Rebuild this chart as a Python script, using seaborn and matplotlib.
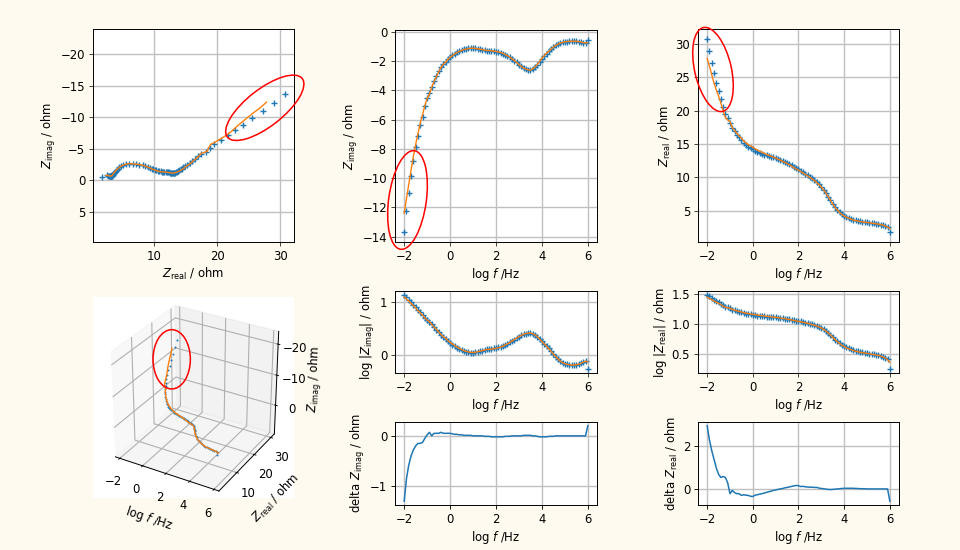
import numpy as np
import pandas as pd
import matplotlib
matplotlib.use("Agg")
import matplotlib.pyplot as plt
from matplotlib.patches import Ellipse
import seaborn as sns

# measured spectrum, 10 points per decade
log_f = [-2.0, -1.9, -1.8, -1.7, -1.6, -1.5, -1.4, -1.3, -1.2, -1.1,
         -1.0, -0.9, -0.8, -0.7, -0.6, -0.5, -0.4, -0.3, -0.2, -0.1,
         0.0, 0.1, 0.2, 0.3, 0.4, 0.5, 0.6, 0.7, 0.8, 0.9,
         1.0, 1.1, 1.2, 1.3, 1.4, 1.5, 1.6, 1.7, 1.8, 1.9,
         2.0, 2.1, 2.2, 2.3, 2.4, 2.5, 2.6, 2.7, 2.8, 2.9,
         3.0, 3.1, 3.2, 3.3, 3.4, 3.5, 3.6, 3.7, 3.8, 3.9,
         4.0, 4.1, 4.2, 4.3, 4.4, 4.5, 4.6, 4.7, 4.8, 4.9,
         5.0, 5.1, 5.2, 5.3, 5.4, 5.5, 5.6, 5.7, 5.8, 5.9,
         6.0]

z_real = [30.8, 29.0, 27.2, 25.6, 24.1, 22.9, 21.7, 20.6, 19.5, 18.9,
          18.2, 17.4, 16.9, 16.4, 16.0, 15.6, 15.2, 14.9, 14.6, 14.4,
          14.2, 14.0, 13.85, 13.7, 13.55, 13.42, 13.3, 13.2, 13.08, 12.98,
          12.85, 12.72, 12.6, 12.45, 12.3, 12.15, 12.0, 11.8, 11.6, 11.42,
          11.25, 11.0, 10.8, 10.55, 10.35, 10.1, 9.85, 9.6, 9.3, 8.95,
          8.6, 8.15, 7.65, 7.1, 6.55, 6.0, 5.5, 5.1, 4.75, 4.45,
          4.25, 4.05, 3.9, 3.78, 3.65, 3.55, 3.48, 3.4, 3.35, 3.3,
          3.25, 3.2, 3.15, 3.1, 3.05, 3.0, 2.92, 2.85, 2.7, 2.55,
          1.75]

z_imag = [-13.7, -12.25, -11.0, -9.85, -8.8, -7.9, -7.1, -6.4, -5.8, -5.1,
          -4.55, -4.2, -3.8, -3.35, -3.05, -2.7, -2.4, -2.2, -2.05, -1.85,
          -1.72, -1.6, -1.5, -1.4, -1.33, -1.27, -1.22, -1.18, -1.15, -1.13,
          -1.13, -1.15, -1.17, -1.2, -1.23, -1.27, -1.3, -1.31, -1.33, -1.35,
          -1.38, -1.41, -1.45, -1.5, -1.58, -1.66, -1.75, -1.86, -1.98, -2.11,
          -2.25, -2.37, -2.48, -2.55, -2.6, -2.62, -2.55, -2.42, -2.25, -2.05,
          -1.85, -1.67, -1.5, -1.35, -1.2, -1.07, -0.95, -0.86, -0.78, -0.73,
          -0.7, -0.68, -0.67, -0.66, -0.66, -0.67, -0.68, -0.71, -0.75, -0.78,
          -0.55]

# measured minus fit
delta_real = [2.95, 2.3, 1.8, 1.4, 1.0, 0.7, 0.55, 0.6, 0.55, 0.3,
              -0.2, -0.05, -0.15, -0.2, -0.2, -0.28, -0.25, -0.27, -0.28, -0.32,
              -0.33, -0.27, -0.25, -0.22, -0.2, -0.17, -0.14, -0.11, -0.08, -0.05,
              -0.03, 0.0, 0.02, 0.04, 0.07, 0.09, 0.11, 0.14, 0.16, 0.18,
              0.17, 0.13, 0.14, 0.12, 0.11, 0.1, 0.1, 0.09, 0.09, 0.06,
              0.04, 0.03, 0.01, 0.0, -0.01, 0.0, 0.01, 0.02, 0.03, 0.04,
              0.05, 0.05, 0.05, 0.05, 0.05, 0.04, 0.04, 0.03, 0.03, 0.03,
              0.02, 0.02, 0.02, 0.02, 0.02, 0.02, 0.02, 0.02, 0.02, 0.02,
              -0.55]

delta_imag = [-1.3, -0.85, -0.58, -0.4, -0.28, -0.2, -0.15, -0.15, -0.13, -0.05,
              0.02, 0.07, 0.0, 0.05, 0.05, 0.05, 0.07, 0.05, 0.05, 0.05,
              0.05, 0.04, 0.03, 0.03, 0.02, 0.02, 0.01, 0.01, 0.01, 0.01,
              0.0, 0.0, 0.0, 0.0, 0.0, -0.01, -0.01, -0.01, -0.02, -0.02,
              -0.02, -0.02, -0.02, -0.02, -0.01, -0.01, -0.01, 0.0, 0.0, 0.0,
              0.0, 0.0, 0.01, 0.01, 0.01, 0.01, 0.0, 0.0, -0.01, -0.02,
              -0.02, -0.02, -0.02, -0.01, -0.01, -0.01, 0.0, 0.0, 0.0, 0.0,
              0.0, 0.0, 0.0, 0.0, 0.0, 0.0, 0.0, 0.0, 0.0, 0.0,
              0.2]

FIG_W, FIG_H = 960, 550
BG = "#fffaef"
BLUE = "#1f77b4"
ORANGE = "#ff7f0e"
GRID = "#c0c0c0"

XLABEL_F = r"log $f$ /Hz"
LABEL_RE = r"$Z_{\mathrm{real}}$ / ohm"
LABEL_IM = r"$Z_{\mathrm{imag}}$ / ohm"

# the original looks like a default figure shrunk to about 80%
plt.rcParams.update({
    "font.size": 8.4,
    "axes.labelsize": 8.4,
    "xtick.labelsize": 8.4,
    "ytick.labelsize": 8.4,
    "axes.labelpad": 2.0,
    "axes.linewidth": 0.7,
    "xtick.major.size": 2.8,
    "ytick.major.size": 2.8,
    "xtick.major.width": 0.64,
    "ytick.major.width": 0.64,
    "xtick.major.pad": 2.8,
    "ytick.major.pad": 2.8,
})

df = pd.DataFrame({"log_f": log_f, "re": z_real, "im": z_imag,
                   "d_re": delta_real, "d_im": delta_imag})
df["fit_re"] = df["re"] - df["d_re"]
df["fit_im"] = df["im"] - df["d_im"]
df["log_re"] = np.log10(df["re"].abs())
df["log_im"] = np.log10(df["im"].abs())
df["fit_log_re"] = np.log10(df["fit_re"].abs())
df["fit_log_im"] = np.log10(df["fit_im"].abs())

fig = plt.figure(figsize=(FIG_W / 100, FIG_H / 100), dpi=100, facecolor=BG)


def px_axes(left, top, right, bottom, **kw):
    # axes box given in pixels of the 960x550 picture
    rect = [left / FIG_W, 1 - bottom / FIG_H, (right - left) / FIG_W, (bottom - top) / FIG_H]
    return fig.add_axes(rect, **kw)


def data_and_fit(ax, x, y, fit_x, fit_y):
    sns.scatterplot(data=df, x=x, y=y, marker="+", s=25, color=BLUE, linewidth=1.0, ax=ax, zorder=3)
    sns.lineplot(data=df, x=fit_x, y=fit_y, color=ORANGE, linewidth=1.0, sort=False, estimator=None, ax=ax, zorder=4)
    ax.grid(True, color=GRID, linewidth=1)
    ax.set_axisbelow(True)
    ax.tick_params(color="#333333")


def red_ellipse(cx, cy, w, h, angle):
    # outline position in picture pixels, not tied to any axes
    fig.add_artist(Ellipse((cx / 100, (FIG_H - cy) / 100), w / 100, h / 100, angle=angle,
                           transform=fig.dpi_scale_trans, fill=False, edgecolor="red",
                           linewidth=1.1, zorder=10))


# Nyquist
ax = px_axes(93, 29, 294, 242)
data_and_fit(ax, "re", "im", "fit_re", "fit_im")
ax.set_xlim(0.27, 32.2)
ax.set_ylim(9.8, -24)
ax.set_xticks([10, 20, 30])
ax.set_yticks([-20, -15, -10, -5, 0, 5])
ax.set_xlabel(LABEL_RE)
ax.set_ylabel(LABEL_IM)

# Z imag vs f
ax = px_axes(395, 30, 597, 242)
data_and_fit(ax, "log_f", "im", "log_f", "fit_im")
ax.set_yticks([-14, -12, -10, -8, -6, -4, -2, 0])
ax.set_xlabel(XLABEL_F)
ax.set_ylabel(LABEL_IM)

# Z real vs f
ax = px_axes(698, 29, 899, 242)
data_and_fit(ax, "log_f", "re", "log_f", "fit_re")
ax.set_yticks([5, 10, 15, 20, 25, 30])
ax.set_xlabel(XLABEL_F)
ax.set_ylabel(LABEL_RE)

# log |Z imag|
ax = px_axes(395, 291, 597, 373)
data_and_fit(ax, "log_f", "log_im", "log_f", "fit_log_im")
ax.set_yticks([0, 1])
ax.set_xlabel(XLABEL_F)
ax.set_ylabel(r"log $|Z_{\mathrm{imag}}|$ / ohm")

# log |Z real|
ax = px_axes(698, 291, 899, 373)
data_and_fit(ax, "log_f", "log_re", "log_f", "fit_log_re")
ax.set_yticks([0.5, 1.0, 1.5])
ax.set_xlabel(XLABEL_F)
ax.set_ylabel(r"log $|Z_{\mathrm{real}}|$ / ohm")

# residuals
ax = px_axes(395, 422, 597, 505)
sns.lineplot(data=df, x="log_f", y="d_im", color=BLUE, linewidth=1.1, ax=ax)
ax.grid(True, color=GRID, linewidth=1)
ax.set_axisbelow(True)
ax.set_yticks([-1, 0])
ax.set_xlabel(XLABEL_F)
ax.set_ylabel(r"delta $Z_{\mathrm{imag}}$ / ohm")

ax = px_axes(698, 422, 899, 505)
sns.lineplot(data=df, x="log_f", y="d_re", color=BLUE, linewidth=1.1, ax=ax)
ax.grid(True, color=GRID, linewidth=1)
ax.set_axisbelow(True)
ax.set_yticks([0, 2])
ax.set_xlabel(XLABEL_F)
ax.set_ylabel(r"delta $Z_{\mathrm{real}}$ / ohm")

for a in fig.axes:
    if a.get_xlabel() == XLABEL_F:
        a.set_xticks([-2, 0, 2, 4, 6])

# 3D view, seaborn has no 3D so plain mplot3d here
ax3 = px_axes(93, 297, 294, 498, projection="3d")
ax3.set_box_aspect((1, 1, 1))
ax3.computed_zorder = False
ax3.scatter(df["log_f"], df["re"], df["im"], s=2, color=BLUE, depthshade=False, linewidths=0, zorder=3)
ax3.plot(df["log_f"], df["fit_re"], df["fit_im"], color=ORANGE, linewidth=1, zorder=4)
ax3.set_xlim(-2.4, 6.4)
ax3.set_ylim(0.27, 32.2)
ax3.set_zlim(9.8, -24)
ax3.set_xticks([-2, 0, 2, 4, 6])
ax3.set_yticks([10, 20, 30])
ax3.set_zticks([0, -10, -20])
ax3.tick_params(axis="x", pad=0)
ax3.tick_params(axis="y", pad=0)
ax3.tick_params(axis="z", pad=0)
ax3.set_xlabel(XLABEL_F, labelpad=0)
ax3.set_ylabel(LABEL_RE, labelpad=0)
ax3.set_zlabel(LABEL_IM, labelpad=-2)

red_ellipse(264.8, 107.8, 95, 37, 38)
red_ellipse(407.5, 200, 99.5, 37.6, 82)
red_ellipse(713, 69.5, 86, 36.6, 103)
red_ellipse(171.7, 359.3, 37.3, 59.3, 0)

plt.savefig("out.png", dpi=100, facecolor=BG)
plt.close()
